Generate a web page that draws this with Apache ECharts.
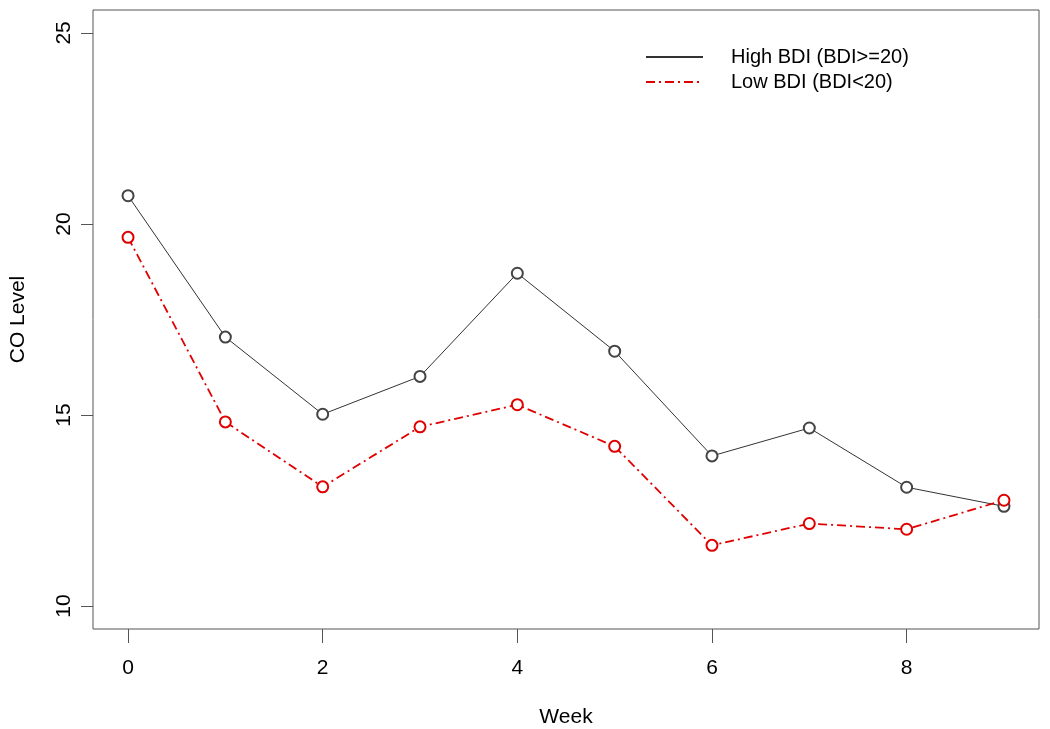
<!DOCTYPE html>
<html>
<head>
<meta charset="utf-8">
<script src="https://cdn.jsdelivr.net/npm/echarts@6/dist/echarts.min.js"></script>
<style>html,body{margin:0;padding:0;background:#fff}#c{width:1050px;height:729px}</style>
</head>
<body>
<div id="c"></div>
<script>
const weeks = [0,1,2,3,4,5,6,7,8,9];
const highBDI = [20.74,17.04,15.02,16.01,18.71,16.67,13.93,14.66,13.11,12.61];
const lowBDI  = [19.65,14.82,13.12,14.69,15.27,14.18,11.59,12.16,12.01,12.77];
const xTicks = [0,2,4,6,8];
const yTicks = [10,15,20,25];
const seriesNames = ['High BDI (BDI>=20)','Low BDI (BDI<20)'];

const font = 'Liberation Sans, Arial, sans-serif';
const chart = echarts.init(document.getElementById('c'));
chart.setOption({
  animation:false,
  backgroundColor:'#fff',
  grid:{left:93,right:11,top:10,bottom:100,outerBoundsMode:'none',containLabel:false,
    show:true,borderColor:'#555',borderWidth:1,backgroundColor:'transparent'},
  xAxis:{type:'value',min:-0.36,max:9.36,
    name:'Week',nameLocation:'middle',nameGap:78,
    nameTextStyle:{fontFamily:font,fontSize:21,color:'#000'},
    axisLine:{show:false,onZero:false},splitLine:{show:false},
    axisTick:{show:true,length:14,customValues:xTicks,lineStyle:{color:'#555'}},
    axisLabel:{customValues:xTicks,fontFamily:font,fontSize:21,color:'#000',margin:29}
  },
  yAxis:{type:'value',min:9.4,max:25.6,
    name:'CO Level',nameLocation:'middle',nameGap:64,
    nameTextStyle:{fontFamily:font,fontSize:21,color:'#000'},
    axisLine:{show:false,onZero:false},splitLine:{show:false},
    axisTick:{show:true,length:12,customValues:yTicks,lineStyle:{color:'#555'}},
    axisLabel:{customValues:yTicks,rotate:90,fontFamily:font,fontSize:21,color:'#000',margin:18}
  },
  legend:{orient:'vertical',left:640,top:42,itemWidth:57,itemHeight:14,itemGap:5,
    itemStyle:{opacity:0},
    textStyle:{fontFamily:font,fontSize:20,color:'#000',padding:[0,0,0,23]},
    data:seriesNames},
  series:[
    {name:seriesNames[0],type:'line',data:weeks.map((w,i)=>[w,highBDI[i]]),
     symbol:'emptyCircle',symbolSize:11,
     lineStyle:{color:'#333',width:1},itemStyle:{color:'#444',borderWidth:0.8}},
    {name:seriesNames[1],type:'line',data:weeks.map((w,i)=>[w,lowBDI[i]]),
     symbol:'emptyCircle',symbolSize:11,
     lineStyle:{color:'#e00000',width:1.8,type:[9,4,2,4]},itemStyle:{color:'#e00000',borderWidth:0.8}}
  ]
});
</script>
</body>
</html>
